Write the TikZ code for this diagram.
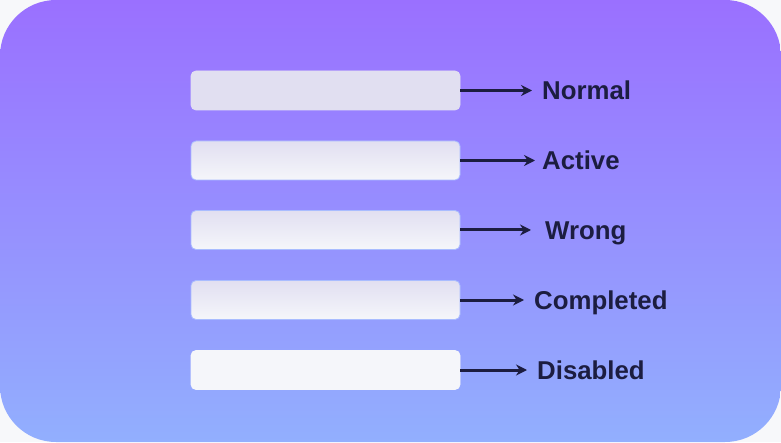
\documentclass[tikz,border=0pt]{standalone}
\usepackage{fontspec}
\setmainfont{Liberation Sans}
\usetikzlibrary{arrows.meta}
\definecolor{paper}{HTML}{F7F8FA}
\definecolor{bgtop}{HTML}{9A70FF}
\definecolor{bgmid}{HTML}{948CFF}
\definecolor{bgbot}{HTML}{92AFFE}
\definecolor{lav}{HTML}{E1DFF1}
\definecolor{blank}{HTML}{F5F6FA}
\definecolor{rim}{HTML}{A9BCFF}
\definecolor{ink}{HTML}{1C1D40}
\tikzset{
  field/.style={rounded corners=5pt, minimum width=269pt, minimum height=39pt,
    draw=rim, line width=0.8pt, inner sep=0pt},
  state/.style={anchor=west, inner sep=0pt, text=ink,
    font=\fontsize{25.8}{30}\selectfont\bfseries, text height=19pt, text depth=0pt},
  pointer/.style={draw=ink, line width=3pt, -{Stealth[length=11pt,width=11pt]},
    shorten >=10pt}
}
\begin{document}
\begin{tikzpicture}[x=1pt,y=1pt]
% Draw the background
        \fill[paper] (0,0) rectangle (781,442);
        \shade[top color=bgtop, middle color=bgmid, bottom color=bgbot,
               rounded corners=56pt] (0,0) rectangle (781,442);
        \useasboundingbox (0,0) rectangle (781,442);
% Draw the input fields
        \node[field, fill=lav, draw=lav] (normalbox) at (325.5,351.5) {};
        \node[field, top color=lav, bottom color=blank] (activebox) at (325.5,281.5) {};
        \node[field, top color=lav, middle color=lav!55!blank, bottom color=blank] (wrongbox) at (325.5,212) {};
        \node[field, top color=lav, bottom color=blank] (completedbox) at (325.5,142) {};
        \node[field, fill=blank, draw=blank] (disabledbox) at (325.5,72) {};
% Draw the state names
        \node[state] (normal) at (542,351.5) {Normal};
        \node[state] (active) at (542,281.5) {Active};
        \node[state] (wrong) at (545,212) {Wrong};
        \node[state] (completed) at (534,142) {Completed};
        \node[state] (disabled) at (537,72) {Disabled};
% Draw the arrows
        \draw[pointer] (normalbox.east) -- (normal.west);
        \draw[pointer, shorten >=7pt] (activebox.east) -- (active.west);
        \draw[pointer, shorten >=14pt] (wrongbox.east) -- (wrong.west);
        \draw[pointer] (completedbox.east) -- (completed.west);
        \draw[pointer] (disabledbox.east) -- (disabled.west);
\end{tikzpicture}
\end{document}
